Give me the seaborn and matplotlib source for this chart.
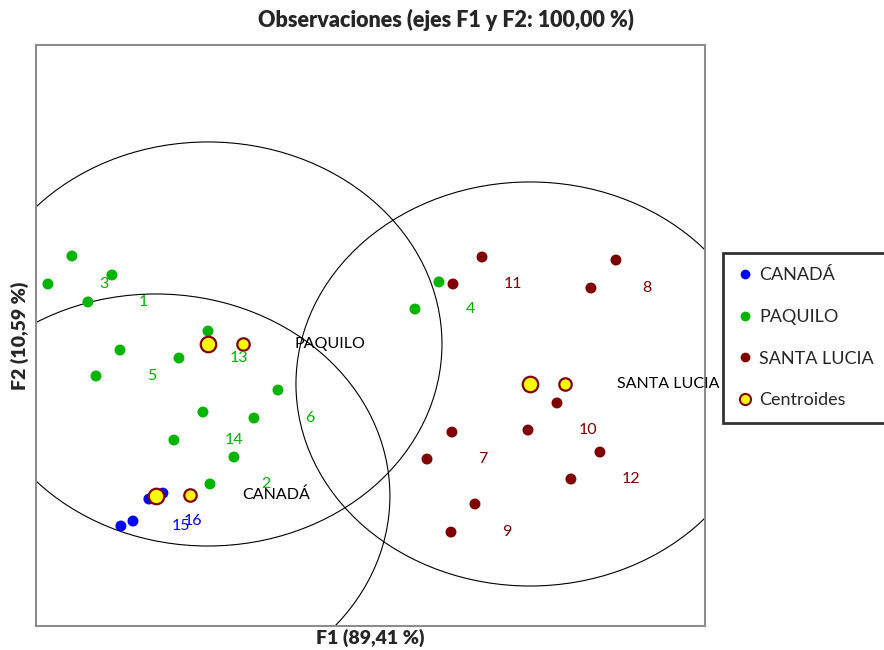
import matplotlib
matplotlib.use("Agg")
import matplotlib.pyplot as plt
import seaborn as sns
import pandas as pd
from matplotlib.patches import Circle
from matplotlib.lines import Line2D

# ---- data: discriminant scores on F1 / F2 ----
groups = ["CANADÁ", "PAQUILO", "SANTA LUCIA"]

canada_f1 = [-1.274, -1.154, -1.513, -1.410]
canada_f2 = [-0.901, -0.842, -1.168, -1.119]
canada_ids = ["", "", "15", "16"]

paquilo_f1 = [-1.932, -1.590, -2.137, -1.795, -0.769, -1.521, -1.017, -1.726,
              -0.171, -0.812, -0.376, -1.060, -0.547, -0.752, 1.205, 1.000]
paquilo_f2 = [1.505, 1.317, 1.228, 1.050, 0.762, 0.574, 0.495, 0.317,
              0.178, -0.040, -0.099, -0.317, -0.485, -0.752, 1.248, 0.980]
paquilo_ids = ["", "", "3", "1", "", "", "13", "5",
               "", "", "6", "14", "", "2", "", "4"]

santa_f1 = [1.573, 2.718, 1.325, 2.504, 2.214, 1.316, 1.966, 1.103,
            2.581, 2.333, 1.513, 1.308]
santa_f2 = [1.495, 1.465, 1.228, 1.188, 0.050, -0.238, -0.218, -0.505,
            -0.436, -0.703, -0.950, -1.228]
santa_ids = ["", "", "11", "8", "", "", "10", "7", "", "12", "", "9"]

# group centroids (large markers, centres of the circles)
centroid_f1 = [-1.214, -0.769, 1.983]
centroid_f2 = [-0.871, 0.634, 0.238]
# class markers carrying the group names (small markers)
classmark_f1 = [-0.923, -0.470, 2.282]
classmark_f2 = [-0.861, 0.634, 0.238]
circle_radius = 2.0

palette = {"CANADÁ": "#0000FF", "PAQUILO": "#00B400", "SANTA LUCIA": "#800000"}
centroid_face = "#FFFF00"
centroid_edge = "#800000"

obs = pd.DataFrame({
    "F1": canada_f1 + paquilo_f1 + santa_f1,
    "F2": canada_f2 + paquilo_f2 + santa_f2,
    "id": canada_ids + paquilo_ids + santa_ids,
    "grupo": [groups[0]] * len(canada_f1) + [groups[1]] * len(paquilo_f1)
             + [groups[2]] * len(santa_f1),
})
cent = pd.DataFrame({"F1": centroid_f1, "F2": centroid_f2, "grupo": groups})
marks = pd.DataFrame({"F1": classmark_f1, "F2": classmark_f2, "grupo": groups})

# ---- figure ----
sns.set_theme(style="white")
plt.rcParams["font.family"] = ["Lato", "DejaVu Sans"]

fig = plt.figure(figsize=(8.84, 6.5), dpi=100)
ax = fig.add_axes([0.0407, 0.0369, 0.7568, 0.8939])

# confidence circles around the centroids (allowed to spill a little past the frame)
for x, y in zip(centroid_f1, centroid_f2):
    c = Circle((x, y), circle_radius, fill=False, edgecolor="black",
               linewidth=0.8, zorder=1)
    ax.add_patch(c)

sns.scatterplot(data=obs, x="F1", y="F2", hue="grupo", palette=palette,
                s=62, edgecolor="none", legend=False, ax=ax, zorder=3)
sns.scatterplot(data=cent, x="F1", y="F2", color=centroid_face, s=125,
                edgecolor=centroid_edge, linewidth=1.6, legend=False, ax=ax,
                zorder=4)
sns.scatterplot(data=marks, x="F1", y="F2", color=centroid_face, s=80,
                edgecolor=centroid_edge, linewidth=1.6, legend=False, ax=ax,
                zorder=4)

# observation labels, to the right of their points
for _, r in obs.iterrows():
    if r["id"]:
        ax.annotate(r["id"], (r["F1"], r["F2"]), xytext=(51, 0),
                    textcoords="offset pixels", ha="left", va="center",
                    fontsize=11.5, color=palette[r["grupo"]], zorder=5)
for _, r in marks.iterrows():
    ax.annotate(r["grupo"], (r["F1"], r["F2"]), xytext=(52, 0),
                textcoords="offset pixels", ha="left", va="center",
                fontsize=11.5, color="black", zorder=5)

ax.set_xlim(-2.239, 3.479)
ax.set_ylim(-2.158, 3.594)
ax.set_xticks([])
ax.set_yticks([])
for sp in ax.spines.values():
    sp.set_color("#8c8c8c")
    sp.set_linewidth(1.5)

ax.set_xlabel("F1 (89,41 %)", fontsize=14, fontweight="heavy", labelpad=2)
ax.set_ylabel("F2 (10,59 %)", fontsize=14, fontweight="heavy", labelpad=5)
fig.text(0.505, 1 - 20 / 650, "Observaciones (ejes F1 y F2: 100,00 %)",
         ha="center", va="center", fontsize=15.5, fontweight="heavy")

handles = [Line2D([], [], marker="o", linestyle="none", markersize=7,
                  markerfacecolor=palette[g], markeredgecolor="none")
           for g in groups]
handles.append(Line2D([], [], marker="o", linestyle="none", markersize=8,
                      markerfacecolor=centroid_face,
                      markeredgecolor=centroid_edge, markeredgewidth=1.5))
leg = fig.legend(handles, groups + ["Centroides"], loc="upper left",
                 bbox_to_anchor=(723 / 884, 1 - 253 / 650), frameon=True,
                 fancybox=False, edgecolor="black", fontsize=13,
                 handlelength=0.8, handletextpad=0.4, labelspacing=1.42,
                 borderpad=0.8, borderaxespad=0)
leg.get_frame().set_linewidth(2)

fig.savefig("out.png", dpi=100)
